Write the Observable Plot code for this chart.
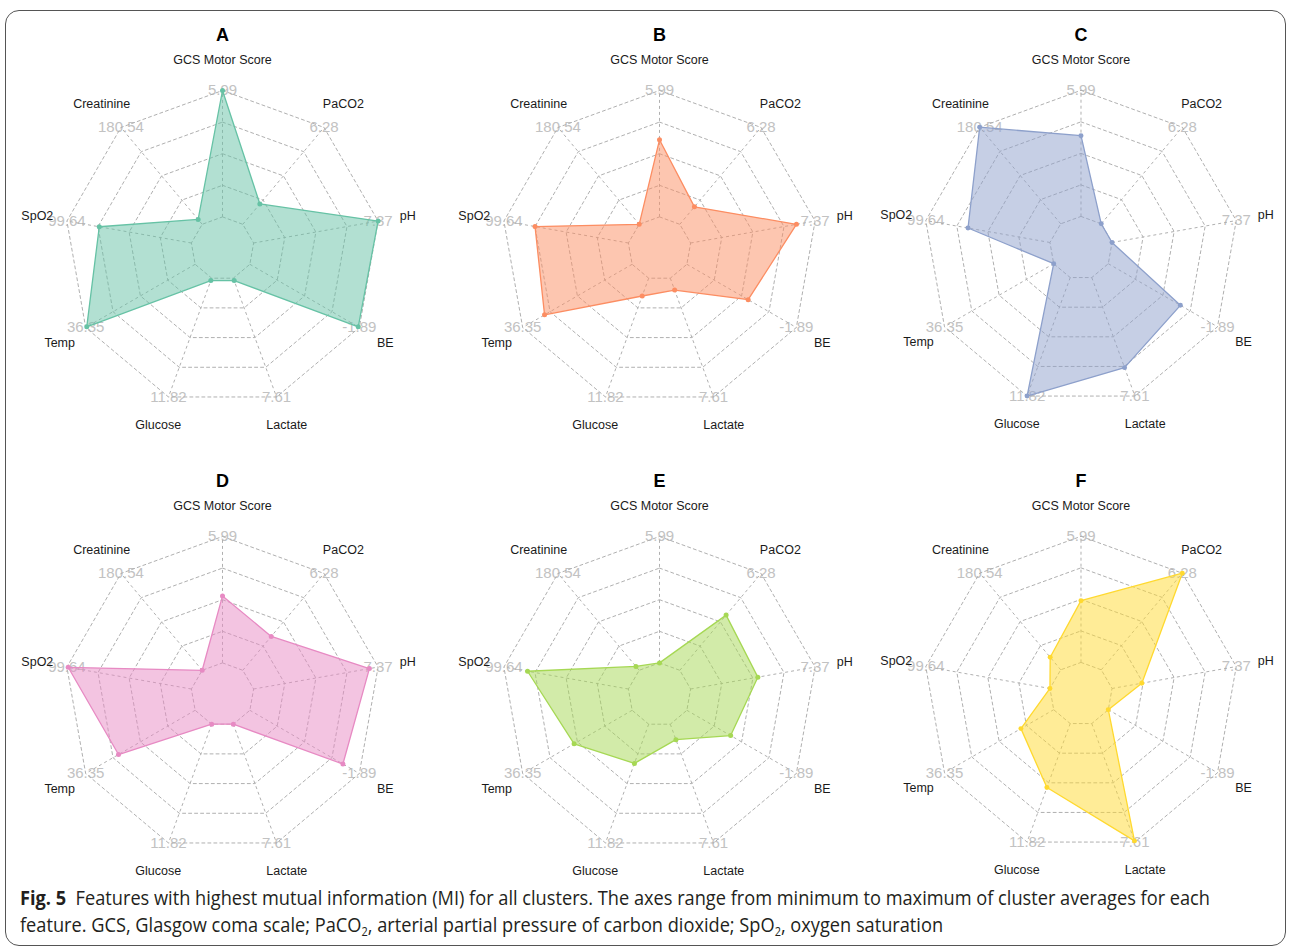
<!DOCTYPE html>
<html>
<head>
<meta charset="utf-8">
<script src="https://cdn.jsdelivr.net/npm/d3@7"></script>
<script src="https://cdn.jsdelivr.net/npm/@observablehq/plot@0.6"></script>
<style>
  html, body { margin: 0; padding: 0; background: #fff; width: 1290px; height: 949px; overflow: hidden; }
  #frame { position: absolute; left: 5px; top: 10px; width: 1281px; height: 936px; border: 1.5px solid #555; border-radius: 14px; box-sizing: border-box; }
  .panel { position: absolute; }
  #caption { position: absolute; left: 20px; top: 884px; font-family: "Open Sans", "Noto Sans", sans-serif; font-size: 20px; line-height: 27px; color: #231f20; white-space: nowrap; transform-origin: 0 0; }
  #caption b { font-weight: 700; }
  #caption sub { font-size: 12px; vertical-align: -4px; line-height: 0; }
</style>
</head>
<body>
<div id="frame"></div>
<div id="panels"></div>
<div id="caption"><span id="l1"><b>Fig. 5</b>&nbsp; Features with highest mutual information (MI) for all clusters. The axes range from minimum to maximum of cluster averages for each</span><br><span id="l2">feature. GCS, Glasgow coma scale; PaCO<sub>2</sub>, arterial partial pressure of carbon dioxide; SpO<sub>2</sub>, oxygen saturation</span></div>
<script>
// Features (axes, clockwise from top)
const features = ["GCS Motor Score", "PaCO2", "pH", "BE", "Lactate", "Glucose", "Temp", "SpO2", "Creatinine"];
// Maximum of cluster averages (outer ring labels)
const maxLabels = ["5.99", "6.28", "7.37", "-1.89", "7.61", "11.82", "36.35", "99.64", "180.54"];
// Cluster averages, scaled per feature: 0 = minimum cluster average, 1 = maximum
const clusterA = [1.00, 0.21, 1.00, 0.99, 0.02, 0.02, 0.99, 0.74, 0.05];
const clusterB = [0.61, 0.18, 0.85, 0.56, 0.10, 0.15, 0.80, 0.75, 0.00];
const clusterC = [0.64, 0.00, 0.00, 0.66, 0.76, 1.00, 0.00, 0.66, 1.00];
const clusterD = [0.53, 0.35, 0.93, 0.85, 0.00, 0.00, 0.70, 0.99, 0.00];
const clusterE = [0.00, 0.57, 0.54, 0.40, 0.13, 0.33, 0.53, 0.81, 0.04];
const clusterF = [0.49, 1.00, 0.24, 0.00, 0.99, 0.54, 0.30, 0.00, 0.13];
const panelTitles = ["A", "B", "C", "D", "E", "F"];
const panelColors = ["#66c2a5", "#fc8d62", "#8da0cb", "#e78ac3", "#a6d854", "#ffd92f"];
const gridLevels = [0, 0.25, 0.5, 0.75, 1];

const clusters = [clusterA, clusterB, clusterC, clusterD, clusterE, clusterF];

// radial layout helpers (fmsb style: min value sits on the innermost ring at 1/5 radius)
const R = 158; // pixels for unit radius
const rad = f => 0.2 + 0.8 * f;
const ang = i => (i * 2 * Math.PI) / features.length;
const px = (i, r) => r * Math.sin(ang(i));
const py = (i, r) => r * Math.cos(ang(i));

const W = 420, H = 450, CX = 210, CY = 230;
const centers = [[222, 248], [659, 248], [1081, 248], [222, 694], [659, 694], [1081, 694]];

const ringPts = gridLevels.flatMap(l => features.map((f, i) => ({level: l, i})));

const container = document.getElementById("panels");
clusters.forEach((vals, k) => {
  const color = panelColors[k];
  const pts = vals.map((v, i) => ({i, v}));
  const chart = Plot.plot({
    width: W,
    height: H,
    margin: 0,
    style: {fontFamily: "'Liberation Sans', Arial, Helvetica, sans-serif", overflow: "visible", background: "transparent"},
    x: {domain: [-CX / R, (W - CX) / R], axis: null},
    y: {domain: [-(H - CY) / R, CY / R], axis: null},
    marks: [
      // maximum labels at the outer ring
      Plot.text(features, {
        x: (d, i) => px(i, 1), y: (d, i) => py(i, 1),
        text: (d, i) => maxLabels[i],
        fill: "#c2c2c2", fontSize: 15
      }),
      // grid rings
      Plot.line(ringPts, {
        x: d => px(d.i, rad(d.level)), y: d => py(d.i, rad(d.level)),
        z: "level", curve: "linear-closed",
        stroke: "#b0b0b0", strokeWidth: 1, strokeDasharray: "3,3"
      }),
      // spokes
      Plot.link(features, {
        x1: (d, i) => px(i, rad(0)), y1: (d, i) => py(i, rad(0)),
        x2: (d, i) => px(i, 1), y2: (d, i) => py(i, 1),
        stroke: "#b0b0b0", strokeWidth: 1, strokeDasharray: "3,3"
      }),
      // cluster polygon
      Plot.line(pts, {
        x: d => px(d.i, rad(d.v)), y: d => py(d.i, rad(d.v)),
        curve: "linear-closed",
        fill: color, fillOpacity: 0.5, stroke: color, strokeWidth: 1.3
      }),
      Plot.dot(pts, {
        x: d => px(d.i, rad(d.v)), y: d => py(d.i, rad(d.v)),
        r: 2.5, fill: color, stroke: "none"
      }),
      // axis (feature) labels
      Plot.text(features, {
        x: (d, i) => px(i, 1.19), y: (d, i) => py(i, 1.19),
        text: d => d, fill: "#1a1a1a", fontSize: 12.5
      }),
      // panel title
      Plot.text([panelTitles[k]], {
        frameAnchor: "top", lineAnchor: "middle", dy: 17, text: d => d,
        fontSize: 18, fontWeight: "bold", fill: "#000"
      })
    ]
  });
  const div = document.createElement("div");
  div.className = "panel";
  div.style.left = (centers[k][0] - CX) + "px";
  div.style.top = (centers[k][1] - CY) + "px";
  div.appendChild(chart);
  container.appendChild(div);
});

// fit the condensed caption to the reference's line width
const cap = document.getElementById("caption");
const l1 = document.getElementById("l1");
const w = l1.getBoundingClientRect().width;
const s = 1190 / w;
cap.style.transform = `scaleX(${s})`;
</script>
</body>
</html>
